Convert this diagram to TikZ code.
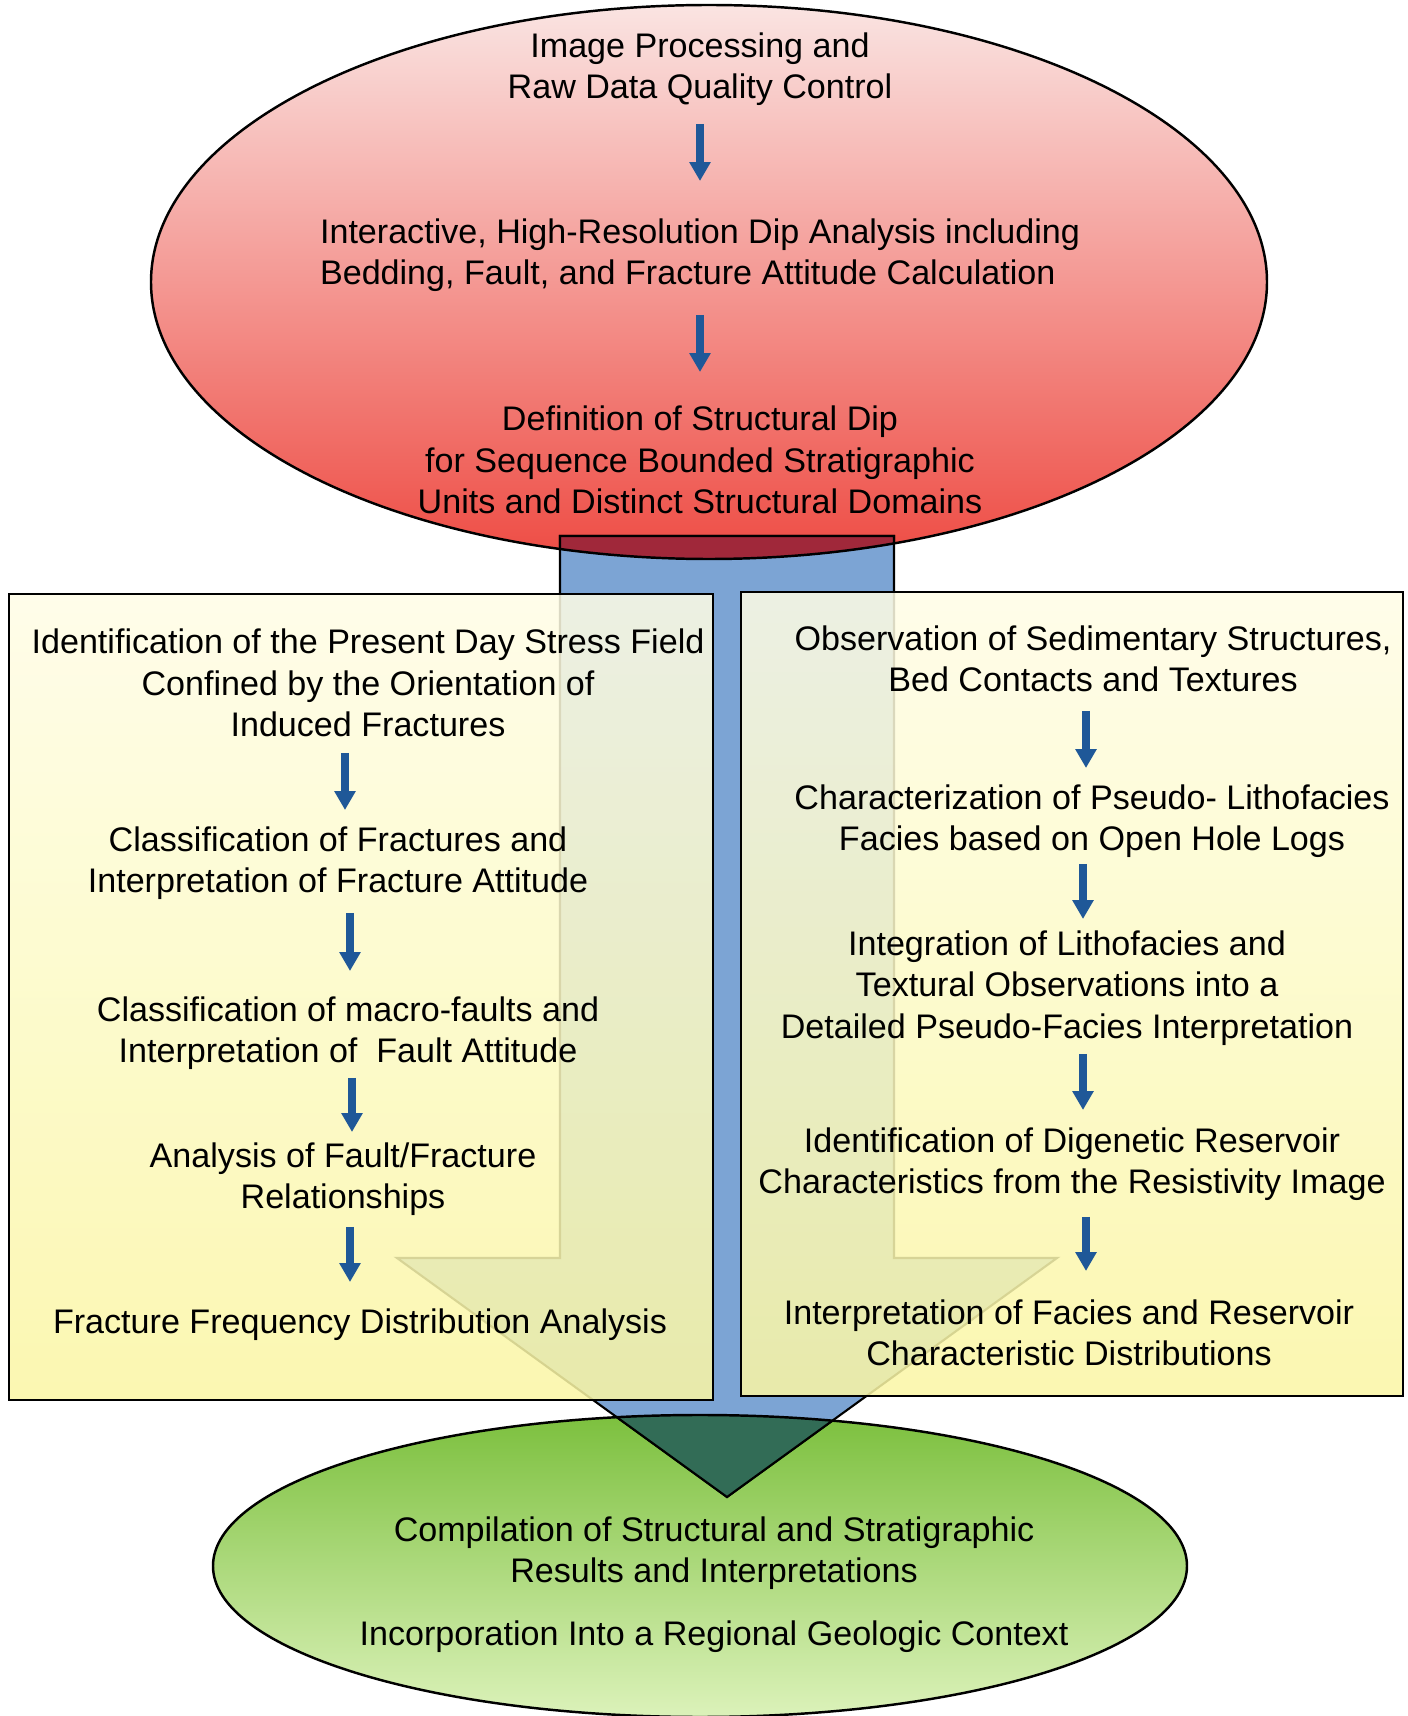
\documentclass[tikz,border=0pt]{standalone}
\usepackage{fontspec}
\setmainfont{Liberation Sans}
\usetikzlibrary{arrows.meta}

\definecolor{redtop}{RGB}{250,228,226}
\definecolor{redmid}{RGB}{246,196,188}
\definecolor{redbot}{RGB}{238,76,68}
\definecolor{greentop}{RGB}{124,192,62}
\definecolor{greenmid}{RGB}{172,218,120}
\definecolor{greenbot}{RGB}{220,242,186}
\definecolor{boxtop}{RGB}{255,253,230}
\definecolor{boxbot}{RGB}{250,246,164}
\definecolor{stemblue}{RGB}{124,164,212}
\definecolor{stemred}{RGB}{160,40,58}
\definecolor{stemgreen}{RGB}{50,108,86}
\definecolor{arrowblue}{RGB}{31,88,152}

\newcommand{\topoval}{(7.09,14.34) ellipse (5.58 and 2.77)}
\newcommand{\botoval}{(7.00,1.50) ellipse (4.87 and 1.51)}
\newcommand{\flowpath}{(5.60,11.80) -- (8.94,11.80) -- (8.94,4.58) -- (10.57,4.58) -- (7.27,2.19) -- (3.97,4.58) -- (5.60,4.58) -- cycle}

\tikzset{
  txt/.style={align=center, font=\fontsize{9.7}{11.8}\selectfont, inner sep=0pt},
  stepline/.style={arrowblue, line width=2pt, -{Triangle[width=5.8pt,length=5.4pt]}},
  panel/.style={draw=black, line width=0.8pt, top color=boxtop, bottom color=boxbot, fill opacity=0.86}
}

\begin{document}
\begin{tikzpicture}
    \useasboundingbox (0,0) rectangle (14.08,17.16);
    \shade [top color=redtop, middle color=redmid, bottom color=redbot] \topoval; % top oval
    \shade [top color=greentop, middle color=greenmid, bottom color=greenbot] \botoval; % bottom oval
    \draw [fill=stemblue, line width=0.6pt] \flowpath; % big arrow
    \begin{scope}
        \clip \topoval;
        \draw [fill=stemred, line width=0.6pt] \flowpath;
    \end{scope}
    \begin{scope}
        \clip \botoval;
        \draw [fill=stemgreen, line width=0.6pt] \flowpath;
    \end{scope}
    \draw [line width=0.7pt] \topoval; \draw [line width=0.7pt] \botoval; % oval rims
    \draw [panel] (0.09,11.22) rectangle (7.13,3.16); % left panel
    \draw [panel] (7.41,11.24) rectangle (14.03,3.20); % right panel

    \node [txt] (proc) at (7.00,16.47) {Image Processing and\\Raw Data Quality Control};
    \node [txt, align=left] (dip) at (7.00,14.61) {Interactive, High-Resolution Dip Analysis including\\Bedding, Fault, and Fracture Attitude Calculation};
    \node [txt] (sdip) at (7.00,12.56) {Definition of Structural Dip\\for Sequence Bounded Stratigraphic\\Units and Distinct Structural Domains};

    \node [txt] (stress) at (3.68,10.33) {Identification of the Present Day Stress Field\\Confined by the Orientation of\\Induced Fractures};
    \node [txt] (frac) at (3.38,8.53) {Classification of Fractures and\\Interpretation of Fracture Attitude};
    \node [txt] (fault) at (3.48,6.83) {Classification of macro-faults and\\Interpretation of\ \ Fault Attitude};
    \node [txt] (rel) at (3.43,5.37) {Analysis of Fault/Fracture\\Relationships};
    \node [txt] (freq) at (3.60,3.91) {Fracture Frequency Distribution Analysis};

    \node [txt] (sed) at (10.93,10.57) {Observation of Sedimentary Structures,\\Bed Contacts and Textures};
    \node [txt] (litho) at (10.92,8.95) {Characterization of Pseudo- Lithofacies\\Facies based on Open Hole Logs};
    \node [txt] (integ) at (10.67,7.28) {Integration of Lithofacies and\\Textural Observations into a\\Detailed Pseudo-Facies Interpretation};
    \node [txt] (diag) at (10.72,5.52) {Identification of Digenetic Reservoir\\Characteristics from the Resistivity Image};
    \node [txt] (dist) at (10.69,3.83) {Interpretation of Facies and Reservoir\\Characteristic Distributions};

    \node [txt] (comp) at (7.14,1.63) {Compilation of Structural and Stratigraphic\\Results and Interpretations};
    \node [txt] (regio) at (7.14,0.79) {Incorporation Into a Regional Geologic Context};

    % small step arrows
    \coordinate (s1) at (7.00,15.92);  \coordinate (e1) at (7.00,15.35);
    \coordinate (s2) at (7.00,14.01);  \coordinate (e2) at (7.00,13.44);
    \coordinate (s3) at (3.45,9.63);   \coordinate (e3) at (3.45,9.06);
    \coordinate (s4) at (3.50,8.03);   \coordinate (e4) at (3.50,7.45);
    \coordinate (s5) at (3.52,6.38);   \coordinate (e5) at (3.52,5.84);
    \coordinate (s6) at (3.50,4.89);   \coordinate (e6) at (3.50,4.34);
    \coordinate (s7) at (10.86,10.05); \coordinate (e7) at (10.86,9.48);
    \coordinate (s8) at (10.83,8.52);  \coordinate (e8) at (10.83,7.97);
    \coordinate (s9) at (10.83,6.62);  \coordinate (e9) at (10.83,6.06);
    \coordinate (s10) at (10.86,4.99); \coordinate (e10) at (10.86,4.45);
    \foreach \n in {1,...,10} \draw [stepline] (s\n) -- (e\n);
\end{tikzpicture}
\end{document}
